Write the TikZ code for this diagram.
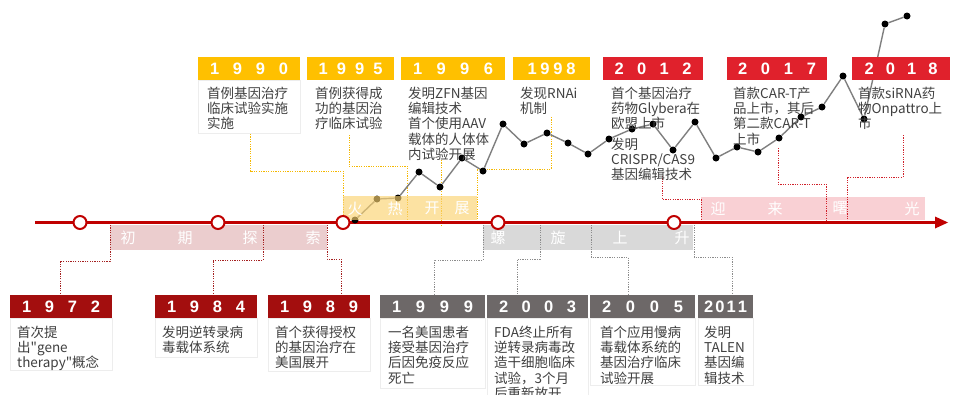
\documentclass[tikz,border=0pt]{standalone}
\usepackage{fontspec}
\newfontfamily\cjk{Noto Sans CJK SC}
\newfontfamily\hdfont{Liberation Sans}
\definecolor{axisC}{HTML}{C00000}
\definecolor{yelH}{HTML}{FFC000}
\definecolor{yelB}{HTML}{FAD270}
\definecolor{redH}{HTML}{E0212C}
\definecolor{redB}{HTML}{F9D0D4}
\definecolor{dredH}{HTML}{A30E0E}
\definecolor{dredB}{HTML}{EBCDCE}
\definecolor{greyH}{HTML}{6D6868}
\definecolor{greyB}{HTML}{D9D9D9}
\definecolor{bodyC}{HTML}{404040}
\definecolor{trendC}{HTML}{7F7F7F}
\definecolor{conYC}{HTML}{F5B800}
\definecolor{conRC}{HTML}{D0202A}
\definecolor{conDC}{HTML}{A52020}
\definecolor{conGC}{HTML}{8C8C8C}
\begin{document}
\begin{tikzpicture}[x=1pt,y=-1pt,
  hdr/.style={rectangle,inner sep=0pt,minimum height=23pt,text=white,
    font=\hdfont\bfseries\fontsize{16.5}{16.5}\selectfont},
  body/.style={inner sep=0pt,anchor=north west,align=left,text=bodyC,
    font=\cjk\fontsize{13.5}{15.4}\selectfont},
  bandtxt/.style={inner sep=0pt,text=white,font=\cjk\fontsize{15}{15}\selectfont},
  dotted con/.style={line width=1pt,dash pattern=on 1.2pt off 1.2pt},
  conY/.style={dotted con,draw=conYC},
  conR/.style={dotted con,draw=conRC},
  conD/.style={dotted con,draw=conDC},
  conG/.style={dotted con,draw=conGC},
  faint/.style={draw=black!7,line width=0.6pt,fill=white},
  tdot/.style={circle,fill=black,inner sep=0pt,minimum size=7pt},
  ring/.style={circle,draw=axisC,fill=white,line width=2pt,inner sep=0pt,minimum size=13pt}]
\useasboundingbox (0,0) rectangle (953,394);

% faint body boxes
\draw[faint] (10,318) rectangle (112,370);
\draw[faint] (155,318) rectangle (257,357);
\draw[faint] (268,318) rectangle (370,371);
\draw[faint] (380,318) rectangle (485,388);
\draw[faint] (487,318) rectangle (588,400);
\draw[faint] (590,318) rectangle (695,385);
\draw[faint] (698,318) rectangle (753,385);
\draw[faint] (198,80) rectangle (300,133);

% bands
\fill[dredB] (110,225) rectangle (327,250);
\fill[greyB] (483,225) rectangle (693,250);
\fill[redB] (701,197) rectangle (925,220);

% connectors
\draw[conY] (250,134) |- (343,171) -- (343,220);
\draw[conY] (349,135) |- (407,166) -- (407,221);
\draw[conY] (441,160) -- (441,225);
\draw[conY] (551,117) |- (477,169) -- (477,221);
\draw[conR] (662,176) |- (701,199) -- (701,221);
\draw[conR] (778,148) |- (826,184) -- (826,221);
\draw[conR] (903,135) |- (847,177) -- (847,221);
\draw[conD] (110,225) |- (60,261) -- (60,295);
\draw[conD] (263,225) |- (213,260) -- (213,295);
\draw[conD] (327,225) |- (341,259) -- (341,295);
\draw[conG] (483,225) |- (434,260) -- (434,295);
\draw[conG] (540,225) |- (517,259) -- (517,295);
\draw[conG] (591,225) |- (628,257) -- (628,295);
\draw[conG] (694,225) |- (732,257) -- (732,295);

% axis
\draw[axisC,line width=3.5pt] (35,222.5) -- (937,222.5);
\fill[axisC] (935,216.5) -- (948,222.5) -- (935,228.5) -- cycle;

% trend line
\foreach \i/\x/\y in {1/355/220,2/377/199,3/398/198,4/419/172,5/440/187,6/462/158,
  7/483/171,8/503/124,9/524/144,10/547/133,11/568/143,12/588/154,13/609/139,
  14/632/129,15/653/124,16/673/150,17/695/122,18/716/158,19/737/147,20/758/152,
  21/779/138,22/801/117,23/822/107,24/843/76,25/864/119,26/885/24,27/907/16}
  \node[tdot] (t\i) at (\x,\y) {};
\foreach \i [evaluate=\i as \j using int(\i+1)] in {1,...,26}
  \draw[trendC,line width=1.4pt] (t\i) -- (t\j);

% yellow band on top (semi transparent)
\fill[yelB,fill opacity=0.65] (343,196) rectangle (477,220);

% band texts
\foreach \x/\t in {128/初,185/期,250/探,313/索}
  \node[bandtxt] at (\x,237.5) {\t};
\foreach \x/\t in {355/火,395/热,432/开,462/展}
  \node[bandtxt] at (\x,208.5) {\t};
\foreach \x/\t in {498/螺,558/旋,620/上,682/升}
  \node[bandtxt] at (\x,237.5) {\t};
\foreach \x/\t in {718/迎,775/来,840/曙,912/光}
  \node[bandtxt] at (\x,208.5) {\t};

% rings on the axis
\foreach \n/\x in {r1/80,r2/218,r3/343,r4/498,r5/674}
  \node[ring] (\n) at (\x,222.5) {};

% bottom headers
\node[hdr,fill=dredH,minimum width=102pt,text width=78pt] (h1972) at (61,306.5) {1\hfill9\hfill7\hfill2};
\node[hdr,fill=dredH,minimum width=102pt,text width=78pt] (h1984) at (206,306.5) {1\hfill9\hfill8\hfill4};
\node[hdr,fill=dredH,minimum width=102pt,text width=78pt] (h1989) at (319,306.5) {1\hfill9\hfill8\hfill9};
\node[hdr,fill=greyH,minimum width=105pt,text width=81pt] (h1999) at (432.5,306.5) {1\hfill9\hfill9\hfill9};
\node[hdr,fill=greyH,minimum width=101pt,text width=77pt] (h2003) at (537.5,306.5) {2\hfill0\hfill0\hfill3};
\node[hdr,fill=greyH,minimum width=105pt,text width=81pt] (h2005) at (642.5,306.5) {2\hfill0\hfill0\hfill5};
\node[hdr,fill=greyH,minimum width=55pt,text width=43pt] (h2011) at (725.5,306.5) {2\hfill0\hfill1\hfill1};

% top headers
\node[hdr,fill=yelH,minimum width=102pt,text width=78pt] (h1990) at (249,68.5) {1\hfill9\hfill9\hfill0};
\node[hdr,fill=yelH,minimum width=87pt,text width=64pt] (h1995) at (350.5,68.5) {1\hfill9\hfill9\hfill5};
\node[hdr,fill=yelH,minimum width=104pt,text width=80pt] (h1996) at (453,68.5) {1\hfill9\hfill9\hfill6};
\node[hdr,fill=yelH,minimum width=77pt,text width=48pt] (h1998) at (551.5,68.5) {1\hfill9\hfill9\hfill8};
\node[hdr,fill=redH,minimum width=100pt,text width=77pt] (h2012) at (653,68.5) {2\hfill0\hfill1\hfill2};
\node[hdr,fill=redH,minimum width=100pt,text width=78pt] (h2017) at (777,68.5) {2\hfill0\hfill1\hfill7};
\node[hdr,fill=redH,minimum width=98pt,text width=73pt] (h2018) at (901,68.5) {2\hfill0\hfill1\hfill8};

% bottom texts
\node[body] (b1972) at (17,325.5) {首次提\\出"gene\\therapy"概念};
\node[body] (b1984) at (162,325.5) {发明逆转录病\\毒载体系统};
\node[body] (b1989) at (275,325.5) {首个获得授权\\的基因治疗在\\美国展开};
\node[body] (b1999) at (388,325.5) {一名美国患者\\接受基因治疗\\后因免疫反应\\死亡};
\node[body] (b2003) at (494,325.5) {FDA终止所有\\逆转录病毒改\\造干细胞临床\\试验，3个月\\后重新放开};
\node[body] (b2005) at (600,325.5) {首个应用慢病\\毒载体系统的\\基因治疗临床\\试验开展};
\node[body] (b2011) at (704,325.5) {发明\\TALEN\\基因编\\辑技术};

% top texts
\node[body] (b1990) at (207,86.5) {首例基因治疗\\临床试验实施\\实施};
\node[body] (b1995) at (315,86.5) {首例获得成\\功的基因治\\疗临床试验};
\node[body] (b1996) at (408,86.5) {发明ZFN基因\\编辑技术\\首个使用AAV\\载体的人体体\\内试验开展};
\node[body] (b1998) at (520,86.5) {发现RNAi\\机制};
\node[body] (b2012a) at (611,86.5) {首个基因治疗\\药物Glybera在\\欧盟上市};
\node[body] (b2012b) at (611,137.5) {发明\\CRISPR/CAS9\\基因编辑技术};
\node[body] (b2017) at (733,86.5) {首款CAR-T产\\品上市，其后\\第二款CAR-T\\上市};
\node[body] (b2018) at (858,86.5) {首款siRNA药\\物Onpattro上\\市};
\end{tikzpicture}
\end{document}
